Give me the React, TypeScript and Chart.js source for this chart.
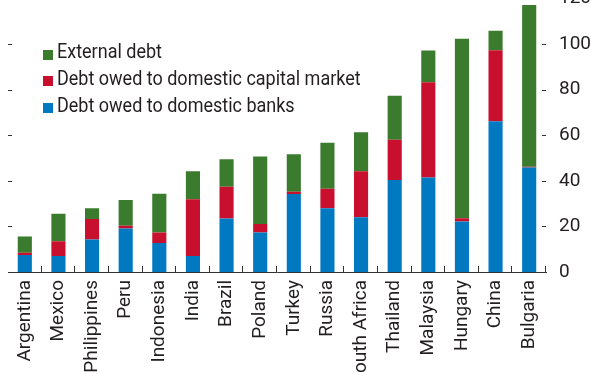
import React, { useEffect, useRef } from "react";
import { Chart, registerables } from "chart.js";

Chart.register(...registerables);

const categories = [
  "Argentina", "Mexico", "Philippines", "Peru", "Indonesia", "India", "Brazil", "Poland",
  "Turkey", "Russia", "South Africa", "Thailand", "Malaysia", "Hungary", "China", "Bulgaria",
];
const domesticBanks = [7.5, 7, 14.3, 19.1, 12.7, 7, 23.5, 17.3, 34.2, 28, 24, 40.4, 41.4, 22.2, 66.1, 45.8];
const domesticCapitalMarket = [0.9, 6.5, 8.9, 1.2, 4.6, 24.9, 13.9, 3.7, 1, 8.5, 20.2, 17.6, 41.8, 1.4, 31.2, 0.4];
const externalDebt = [7.2, 12, 4.8, 11.3, 17, 12.3, 12, 29.7, 16.4, 20.2, 17.1, 19.3, 13.9, 78.7, 8.5, 70.9];
const yMin = 0;
const yMax = 120;
const yStep = 20;

const seriesLabels = ["Debt owed to domestic banks", "Debt owed to domestic capital market", "External debt"];
const seriesColors = ["#0079c1", "#c8102e", "#3a7b2d"];
const seriesData = [domesticBanks, domesticCapitalMarket, externalDebt];

const FONT = "Roboto, 'Liberation Sans', sans-serif";
const TEXT = "#231f20";
const SHIFT = 18;

const tickPlugin = {
  id: "innerTicks",
  afterDraw(chart: any) {
    const ctx = chart.ctx;
    const { left, right, bottom } = chart.chartArea;
    const y = chart.scales.y;
    const x = chart.scales.x;
    ctx.save();
    ctx.strokeStyle = "#333";
    ctx.lineWidth = 1;
    ctx.beginPath();
    for (let v = yMin + yStep; v <= yMax; v += yStep) {
      const py = Math.round(y.getPixelForValue(v)) + 0.5;
      ctx.moveTo(left, py);
      ctx.lineTo(left + 4, py);
      ctx.moveTo(right - 4, py);
      ctx.lineTo(right, py);
    }
    const n = categories.length;
    for (let i = 1; i <= n; i++) {
      const px = i < n ? (x.getPixelForValue(i - 1) + x.getPixelForValue(i)) / 2 : right;
      const rx = Math.round(px) - 0.5;
      ctx.moveTo(rx, bottom);
      ctx.lineTo(rx, bottom - 6);
    }
    ctx.stroke();
    ctx.restore();
  },
};

export default function App() {
  const ref = useRef<HTMLCanvasElement | null>(null);

  useEffect(() => {
    document.body.style.margin = "0";
    const canvas = ref.current!;
    const chart = new Chart(canvas, {
      type: "bar",
      data: {
        labels: categories,
        datasets: seriesData.map((d, i) => ({
          label: seriesLabels[i],
          data: d,
          backgroundColor: seriesColors[i],
          borderWidth: 0,
          categoryPercentage: 1,
          barPercentage: 0.42,
        })),
      },
      options: {
        animation: false,
        responsive: false,
        devicePixelRatio: 1,
        layout: { padding: { left: 8, top: 14, right: 0, bottom: 0 } },
        plugins: { legend: { display: false }, tooltip: { enabled: false } },
        scales: {
          x: {
            stacked: true,
            grid: { display: false },
            border: { display: true, color: "#333", width: 1 },
            ticks: {
              minRotation: 90,
              maxRotation: 90,
              autoSkip: false,
              padding: 0,
              color: TEXT,
              font: { family: FONT, size: 19 },
            },
            afterFit(scale: any) {
              scale.height = 100;
            },
          },
          y: {
            stacked: true,
            position: "right",
            min: yMin,
            max: yMax,
            grid: { display: false },
            border: { display: false },
            ticks: {
              stepSize: yStep,
              padding: 5,
              crossAlign: "near",
              color: TEXT,
              font: { family: FONT, size: 19 },
            },
            afterFit(scale: any) {
              scale.width = 45;
            },
          },
        },
      },
      plugins: [tickPlugin],
    });
    return () => chart.destroy();
  }, []);

  const legendOrder = [2, 1, 0];

  return (
    <div style={{ position: "fixed", left: 0, top: 0, width: 591, height: 372, overflow: "hidden", background: "#fff" }}>
      <canvas
        ref={ref}
        width={591}
        height={372 + SHIFT}
        style={{ position: "absolute", left: 0, top: -SHIFT, width: 591, height: 372 + SHIFT }}
      />
      {legendOrder.map((idx, row) => {
        const top = 39 + row * 26.8;
        return (
          <div key={idx}>
            <div
              style={{
                position: "absolute",
                left: 43,
                top: top + 10.5,
                width: 10,
                height: 10,
                background: seriesColors[idx],
              }}
            />
            <div
              style={{
                position: "absolute",
                left: 57,
                top,
                lineHeight: "24px",
                fontSize: 20,
                fontFamily: FONT,
                color: TEXT,
                whiteSpace: "nowrap",
                transform: "scaleX(0.9)",
                transformOrigin: "0 0",
              }}
            >
              {seriesLabels[idx]}
            </div>
          </div>
        );
      })}
    </div>
  );
}
